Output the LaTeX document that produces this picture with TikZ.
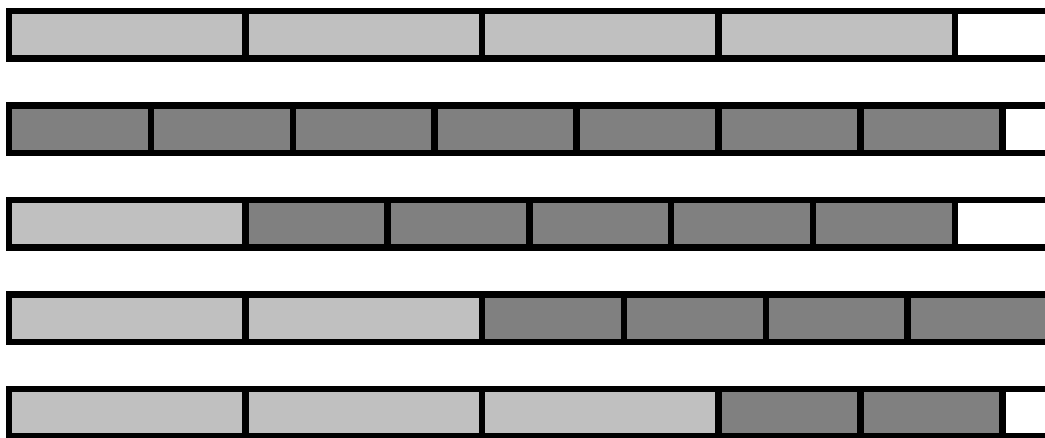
\documentclass[tikz,border=0pt]{standalone}
\definecolor{lightgray}{RGB}{192,192,192}
\definecolor{darkgray}{RGB}{128,128,128}
\begin{document}
\begin{tikzpicture}[x=1pt,y=-1pt,
  seg/.style={draw=black,line width=6.5pt},
  lightseg/.style={seg,fill=lightgray},
  darkseg/.style={seg,fill=darkgray},
  restseg/.style={seg,fill=white}]
\useasboundingbox (0,0) rectangle (1045,438);
\clip (0,0) rectangle (1045,438);

% row 1
\draw[lightseg] (9,11.25) rectangle (245.5,58.75);
\draw[lightseg] (245.5,11.25) rectangle (482,58.75);
\draw[lightseg] (482,11.25) rectangle (718.5,58.75);
\draw[lightseg] (718.5,11.25) rectangle (955,58.75);
\draw[restseg] (955,11.25) rectangle (1100,58.75);

% row 2
\draw[darkseg] (9,105.75) rectangle (150.9,153.25);
\draw[darkseg] (150.9,105.75) rectangle (292.8,153.25);
\draw[darkseg] (292.8,105.75) rectangle (434.7,153.25);
\draw[darkseg] (434.7,105.75) rectangle (576.6,153.25);
\draw[darkseg] (576.6,105.75) rectangle (718.5,153.25);
\draw[darkseg] (718.5,105.75) rectangle (860.4,153.25);
\draw[darkseg] (860.4,105.75) rectangle (1002.3,153.25);
\draw[restseg] (1002.3,105.75) rectangle (1100,153.25);

% row 3
\draw[lightseg] (9,200.25) rectangle (245.5,247.75);
\draw[darkseg] (245.5,200.25) rectangle (387.4,247.75);
\draw[darkseg] (387.4,200.25) rectangle (529.3,247.75);
\draw[darkseg] (529.3,200.25) rectangle (671.2,247.75);
\draw[darkseg] (671.2,200.25) rectangle (813.1,247.75);
\draw[darkseg] (813.1,200.25) rectangle (955,247.75);
\draw[restseg] (955,200.25) rectangle (1100,247.75);

% row 4
\draw[lightseg] (9,294.75) rectangle (245.5,342.25);
\draw[lightseg] (245.5,294.75) rectangle (482,342.25);
\draw[darkseg] (482,294.75) rectangle (623.9,342.25);
\draw[darkseg] (623.9,294.75) rectangle (765.8,342.25);
\draw[darkseg] (765.8,294.75) rectangle (907.7,342.25);
\draw[darkseg] (907.7,294.75) rectangle (1049.6,342.25);

% row 5
\draw[lightseg] (9,389.25) rectangle (245.5,436.75);
\draw[lightseg] (245.5,389.25) rectangle (482,436.75);
\draw[lightseg] (482,389.25) rectangle (718.5,436.75);
\draw[darkseg] (718.5,389.25) rectangle (860.4,436.75);
\draw[darkseg] (860.4,389.25) rectangle (1002.3,436.75);
\draw[restseg] (1002.3,389.25) rectangle (1100,436.75);
\end{tikzpicture}
\end{document}
